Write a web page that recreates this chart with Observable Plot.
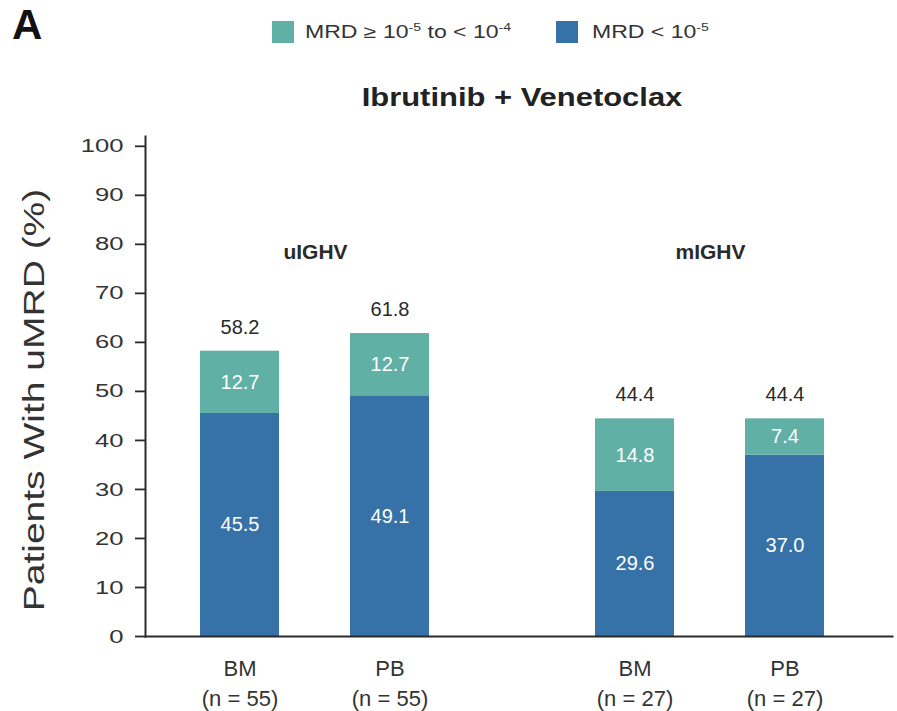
<!DOCTYPE html>
<html>
<head>
<meta charset="utf-8">
<script src="https://cdn.jsdelivr.net/npm/d3@7"></script>
<script src="https://cdn.jsdelivr.net/npm/@observablehq/plot@0.6"></script>
<style>
  body { margin: 0; background: #fff; }
  #chart { position: relative; width: 897px; height: 711px; overflow: hidden;
           font-family: "Liberation Sans", Arial, Helvetica, sans-serif; }
  #chart svg { position: absolute; left: 0; top: 0; }
  .panel { position: absolute; left: 12px; top: 4px; font-size: 42px; line-height: 42px;
           font-weight: bold; color: #111; }
  .title { position: absolute; left: 522px; top: 84px; font-size: 26px; line-height: 26px;
           font-weight: bold; color: #222; white-space: nowrap;
           transform: translateX(-50%) scaleX(1.19); }
  .ylabel { position: absolute; left: 34px; top: 400px; font-size: 30px; line-height: 30px;
            color: #333; white-space: nowrap;
            transform: translate(-50%, -50%) rotate(-90deg) scaleX(1.3); }
  .swatch { position: absolute; top: 21px; width: 22px; height: 22px; }
  .key { position: absolute; top: 23px; font-size: 18px; line-height: 18px; color: #333;
         white-space: nowrap; transform: scaleX(1.28); transform-origin: left center; }
  .key sup { font-size: 11px; line-height: 0; vertical-align: 7px; }
</style>
</head>
<body>
<div id="chart">
  <div class="panel">A</div>
  <div class="swatch" id="sw-mid" style="left:272px"></div>
  <div class="key" style="left:305px">MRD ≥ 10<sup>-5</sup> to &lt; 10<sup>-4</sup></div>
  <div class="swatch" id="sw-deep" style="left:556px"></div>
  <div class="key" style="left:592px">MRD &lt; 10<sup>-5</sup></div>
  <div class="title">Ibrutinib + Venetoclax</div>
  <div class="ylabel" id="ylabel"></div>
</div>
<script>
// IGHV subgroups and sample sources
const groups = ["uIGHV", "mIGHV"];
const sampleTypes = ["BM", "PB"];

// one entry per bar
const barGroup = ["uIGHV", "uIGHV", "mIGHV", "mIGHV"];
const barSample = ["BM", "PB", "BM", "PB"];
const barN = [55, 55, 27, 27];

// % of patients by MRD depth
const deepMRD = [45.5, 49.1, 29.6, 37.0];        // MRD < 10^-5
const intermediateMRD = [12.7, 12.7, 14.8, 7.4]; // MRD >= 10^-5 to < 10^-4
const totals = [58.2, 61.8, 44.4, 44.4];

const tiers = ["MRD < 10^-5", "MRD >= 10^-5 to < 10^-4"];
const tierColors = ["#3672a7", "#60b0a6"];
const yTicks = [0, 10, 20, 30, 40, 50, 60, 70, 80, 90, 100];
const yLabel = "Patients With uMRD (%)";

document.getElementById("sw-deep").style.background = tierColors[0];
document.getElementById("sw-mid").style.background = tierColors[1];
document.getElementById("ylabel").textContent = yLabel;

const bars = barGroup.map((g, i) => ({
  group: g, sample: barSample[i], n: barN[i], total: totals[i]
}));

// stacked segments: deepest response at the bottom
const segments = [];
bars.forEach((b, i) => {
  segments.push({...b, tier: tiers[0], value: deepMRD[i]});
  segments.push({...b, tier: tiers[1], value: intermediateMRD[i]});
});

const ink = "#2a2a2a";

const plot = Plot.plot({
  width: 897,
  height: 711,
  marginTop: 136,
  marginBottom: 75,
  marginLeft: 145,
  marginRight: 4,
  style: {fontFamily: "'Liberation Sans', Arial, Helvetica, sans-serif", color: "#333", background: "transparent"},
  // facets fill the whole frame; bars sit a little left of centre in each facet
  fx: {domain: groups, axis: null, paddingInner: 0.109, paddingOuter: 0, align: 0},
  x: {domain: sampleTypes, axis: null, paddingInner: 0.475, paddingOuter: 0.408, align: 0.4475},
  y: {domain: [0, 102]},
  color: {domain: tiers, range: tierColors},
  marks: [
    Plot.barY(segments, {fx: "group", x: "sample", y: "value", fill: "tier"}),
    Plot.text(segments, Plot.stackY({
      fx: "group", x: "sample", y: "value",
      text: d => d.value.toFixed(1),
      fill: "white", fontSize: 20, ariaLabel: "segment value"
    })),
    Plot.text(bars, {
      fx: "group", x: "sample", y: "total",
      text: d => d.total.toFixed(1),
      dy: -24, fill: ink, fontSize: 20, ariaLabel: "total value"
    }),
    Plot.text(groups, {
      fx: d => d, text: d => d, frameAnchor: "top", dx: -6, dy: 108,
      fontWeight: "bold", fontSize: 21, fill: ink, ariaLabel: "group label"
    }),
    Plot.text(bars, {
      fx: "group", x: "sample",
      text: d => `${d.sample}\n(n = ${d.n})`,
      frameAnchor: "bottom", lineAnchor: "top", dy: 18, lineHeight: 1.36,
      fontSize: 22, fill: "#333", ariaLabel: "sample label"
    }),
    Plot.axisY({ticks: yTicks, tickSize: 10, tickPadding: 12, fontSize: 19,
                strokeWidth: 1.8, stroke: ink, label: null}),
    Plot.frame({anchor: "left", facet: "super", stroke: ink, strokeWidth: 2}),
    Plot.frame({anchor: "bottom", facet: "super", stroke: ink, strokeWidth: 2})
  ]
});

// widen glyphs along their own baseline for an extended-looking face
function stretch(label, k) {
  plot.querySelectorAll(`g[aria-label="${label}"] text`).forEach(t => {
    const tr = t.getAttribute("transform") || "";
    t.setAttribute("transform", `${tr} scale(${k},1)`);
  });
}
stretch("y-axis tick label", 1.35);
stretch("sample label", 1.27);
stretch("segment value", 1.15);
stretch("total value", 1.15);
stretch("group label", 1.12);

document.getElementById("chart").prepend(plot);
</script>
</body>
</html>
